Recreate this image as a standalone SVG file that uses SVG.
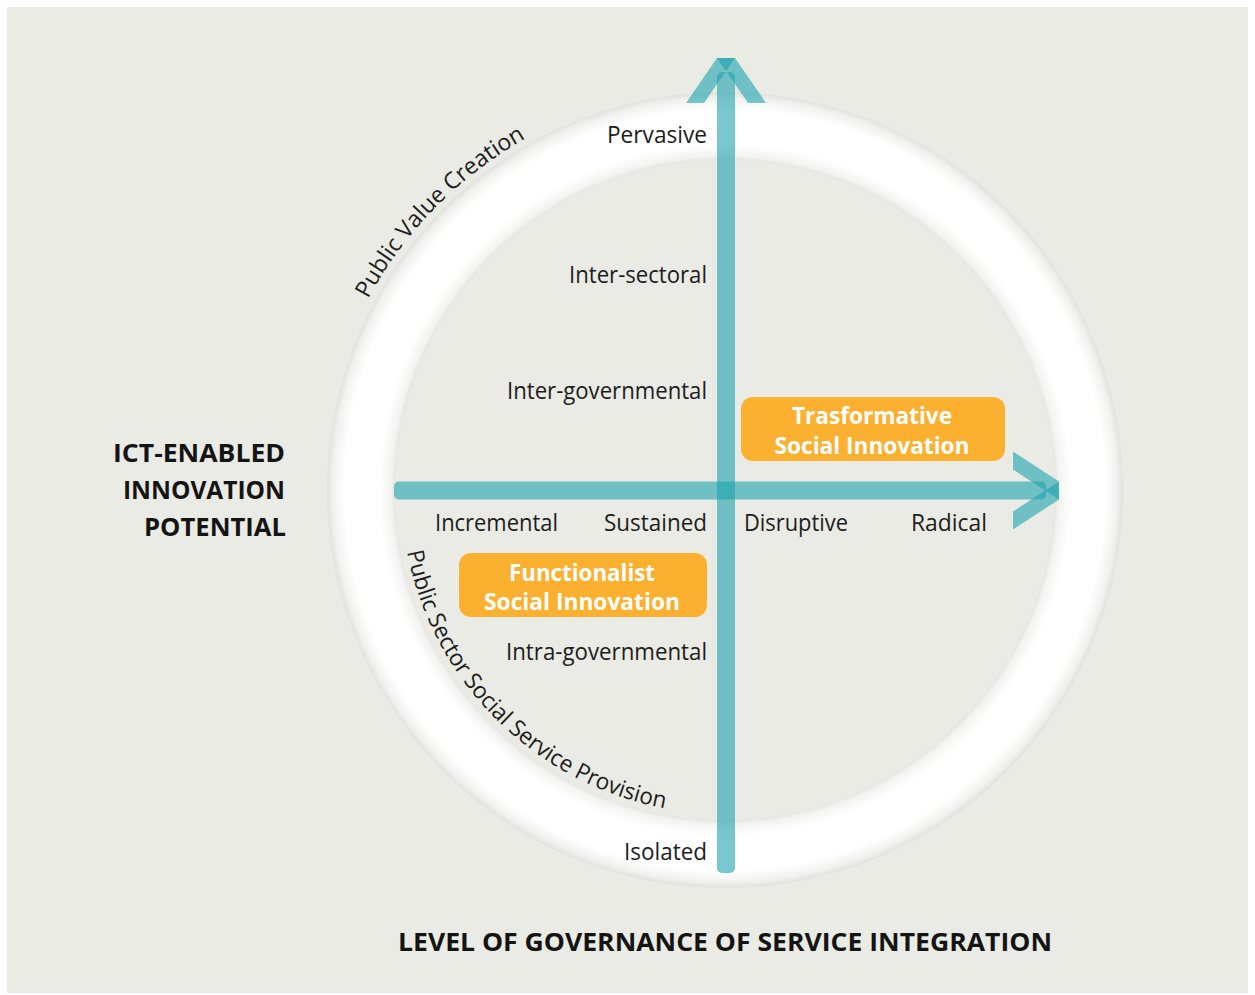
<svg xmlns="http://www.w3.org/2000/svg" width="1255" height="995" viewBox="0 0 1255 995">
<defs>
<radialGradient id="ringGrad" gradientUnits="userSpaceOnUse" cx="725" cy="490" r="398">
<stop offset="0.826" stop-color="#e1e1dd"/>
<stop offset="0.84" stop-color="#f3f3f1"/>
<stop offset="0.87" stop-color="#ffffff"/>
<stop offset="0.955" stop-color="#ffffff"/>
<stop offset="0.985" stop-color="#f1f1ef"/>
<stop offset="1" stop-color="#e1e1dd"/>
</radialGradient>
<path id="arcTop" d="M 368 299 A 404 404 0 0 1 525 139"/>
<path id="arcBottom" d="M 407 551.8 A 324 324 0 0 0 668.7 809.1"/>
</defs>
<style>
.lbl{font-family:"Open Sans","Liberation Sans",sans-serif;font-size:23px;fill:#1c1c1c}
.ttl{font-family:"Open Sans","Liberation Sans",sans-serif;font-size:25px;font-weight:bold;fill:#141414}
.box{fill:#fbb030}
.boxt{font-family:"Open Sans","Liberation Sans",sans-serif;font-size:23px;font-weight:bold;fill:#ffffff;text-anchor:middle}
.arr{fill:#1aa3ad;fill-opacity:0.6}
</style>
<rect x="0" y="0" width="1255" height="995" fill="#ffffff"/>
<rect x="7" y="7" width="1241" height="986" fill="#ebebe5"/>
<g id="ring">
<circle cx="725" cy="490" r="398" fill="url(#ringGrad)"/>
<circle cx="725" cy="490" r="330" fill="#ebebe5"/>
</g>
<g id="ring-labels">
<text class="lbl" font-size="24"><textPath href="#arcTop" textLength="228" lengthAdjust="spacingAndGlyphs">Public Value Creation</textPath></text>
<text class="lbl" font-size="22"><textPath href="#arcBottom" textLength="386" lengthAdjust="spacingAndGlyphs">Public Sector Social Service Provision</textPath></text>
</g>
<g id="connectors">
<rect class="arr" x="717" y="72" width="18" height="801" rx="5"/>
<polygon class="arr" points="717,58 735,58 704,103 686,103"/>
<polygon class="arr" points="717,58 735,58 766,103 748,103"/>
<rect class="arr" x="394" y="481.5" width="652" height="18" rx="5"/>
<polygon class="arr" points="1059,481.5 1059,499.5 1013,469.5 1013,451.5"/>
<polygon class="arr" points="1059,481.5 1059,499.5 1013,529.5 1013,511.5"/>
</g>
<g id="vertical-labels">
<text class="lbl" x="707" y="143" text-anchor="end" textLength="100" lengthAdjust="spacingAndGlyphs">Pervasive</text>
<text class="lbl" x="707" y="283" text-anchor="end" textLength="138" lengthAdjust="spacingAndGlyphs">Inter-sectoral</text>
<text class="lbl" x="707" y="399" text-anchor="end" textLength="200" lengthAdjust="spacingAndGlyphs">Inter-governmental</text>
<text class="lbl" x="707" y="660" text-anchor="end" textLength="201" lengthAdjust="spacingAndGlyphs">Intra-governmental</text>
<text class="lbl" x="707" y="860" text-anchor="end" textLength="83" lengthAdjust="spacingAndGlyphs">Isolated</text>
</g>
<g id="horizontal-labels">
<text class="lbl" x="435" y="531" textLength="123" lengthAdjust="spacingAndGlyphs">Incremental</text>
<text class="lbl" x="604" y="531" textLength="103" lengthAdjust="spacingAndGlyphs">Sustained</text>
<text class="lbl" x="744" y="531" textLength="104" lengthAdjust="spacingAndGlyphs">Disruptive</text>
<text class="lbl" x="911" y="531" textLength="76" lengthAdjust="spacingAndGlyphs">Radical</text>
</g>
<g id="node-transformative">
<rect class="box" x="741" y="397" width="264" height="64" rx="12"/>
<text class="boxt" x="872" y="424" textLength="160" lengthAdjust="spacingAndGlyphs">Trasformative</text>
<text class="boxt" x="872" y="454" textLength="195" lengthAdjust="spacingAndGlyphs">Social Innovation</text>
</g>
<g id="node-functionalist">
<rect class="box" x="459" y="553" width="248" height="64" rx="12"/>
<text class="boxt" x="582" y="581" textLength="146" lengthAdjust="spacingAndGlyphs">Functionalist</text>
<text class="boxt" x="582" y="610" textLength="196" lengthAdjust="spacingAndGlyphs">Social Innovation</text>
</g>
<g id="axis-title-left">
<text class="ttl" x="285" y="462" text-anchor="end" textLength="172" lengthAdjust="spacingAndGlyphs">ICT-ENABLED</text>
<text class="ttl" x="285" y="499" text-anchor="end" textLength="162" lengthAdjust="spacingAndGlyphs">INNOVATION</text>
<text class="ttl" x="286" y="536" text-anchor="end" textLength="142" lengthAdjust="spacingAndGlyphs">POTENTIAL</text>
</g>
<g id="axis-title-bottom">
<text class="ttl" x="398" y="951" textLength="654" lengthAdjust="spacingAndGlyphs">LEVEL OF GOVERNANCE OF SERVICE INTEGRATION</text>
</g>
</svg>
